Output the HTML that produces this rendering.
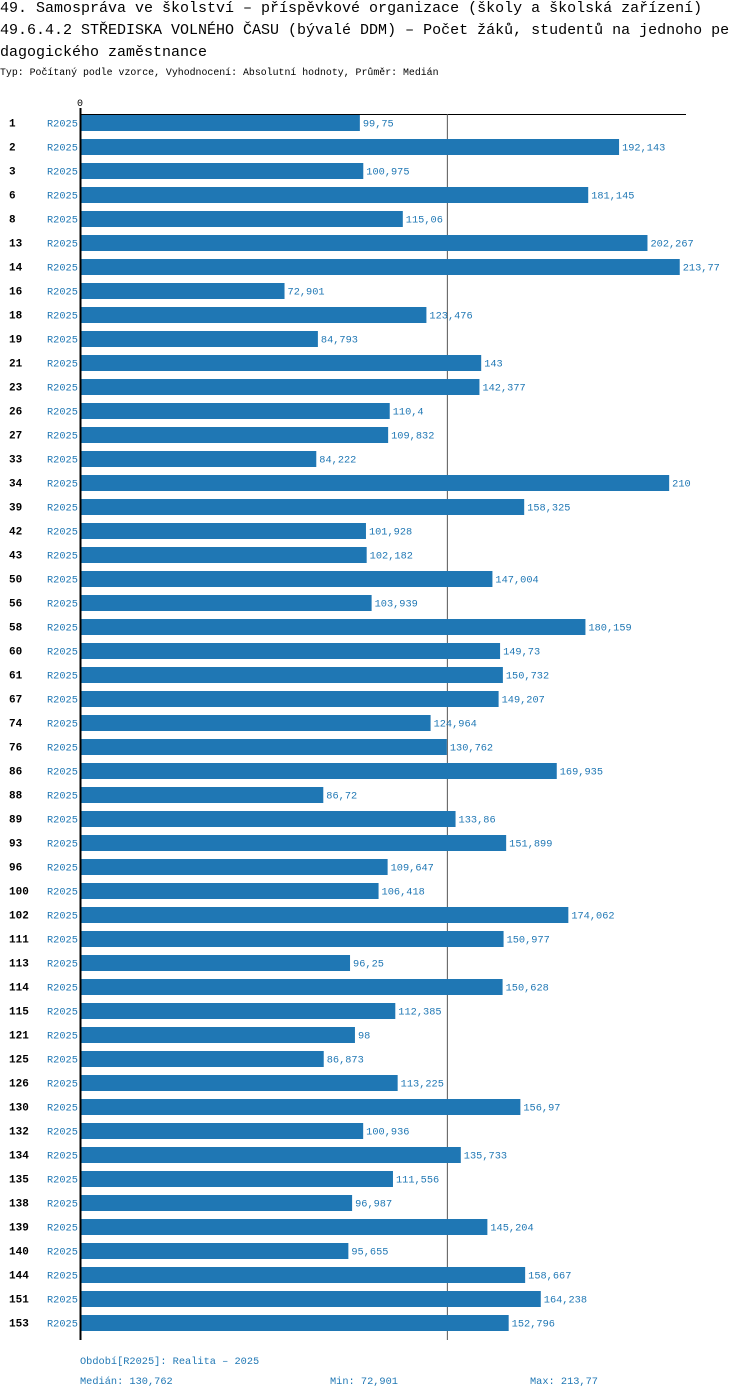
<!DOCTYPE html>
<html><head><meta charset="utf-8"><style>
body{margin:0;background:#fff;width:750px;height:1398px;overflow:hidden;font-family:"Liberation Mono","DejaVu Sans Mono",monospace}
.t{position:absolute;left:0;font-size:15px;color:#000;white-space:nowrap}
</style></head><body>
<div class="t" style="top:0px">49. Samospráva ve školství – příspěvkové organizace (školy a školská zařízení)</div>
<div class="t" style="top:22px">49.6.4.2 STŘEDISKA VOLNÉHO ČASU (bývalé DDM) – Počet žáků, studentů na jednoho pe</div>
<div class="t" style="top:44px">dagogického zaměstnance</div>
<div class="t" style="top:67px;font-size:9.9px">Typ: Počítaný podle vzorce, Vyhodnocení: Absolutní hodnoty, Průměr: Medián</div>
<svg id="c" width="750" height="1398" style="position:absolute;left:0;top:0"></svg>
<script>
const categories=["1","2","3","6","8","13","14","16","18","19","21","23","26","27","33","34","39","42","43","50","56","58","60","61","67","74","76","86","88","89","93","96","100","102","111","113","114","115","121","125","126","130","132","134","135","138","139","140","144","151","153"];
const values=[99.75,192.143,100.975,181.145,115.06,202.267,213.77,72.901,123.476,84.793,143,142.377,110.4,109.832,84.222,210,158.325,101.928,102.182,147.004,103.939,180.159,149.73,150.732,149.207,124.964,130.762,169.935,86.72,133.86,151.899,109.647,106.418,174.062,150.977,96.25,150.628,112.385,98,86.873,113.225,156.97,100.936,135.733,111.556,96.987,145.204,95.655,158.667,164.238,152.796];
const seriesLabel="R2025";
const median=130.762;
const NS="http://www.w3.org/2000/svg";
const svg=document.getElementById('c');
const x0=80,scale=606/216;
const xs=v=>x0+v*scale;
const ys=i=>114+i*24;
function mk(t,a,txt){const e=document.createElementNS(NS,t);for(const k in a)e.setAttribute(k,a[k]);if(txt!=null)e.textContent=txt;svg.appendChild(e);return e;}
const bottom=ys(categories.length)+2;
let e;
e=mk('line',{x1:x0,y1:114.5,x2:686,y2:114.5,stroke:'#000','stroke-width':1});


e=mk('text',{x:x0,y:106,'font-size':10,'text-anchor':'middle','font-family':'Liberation Mono,monospace'},'0');


e=mk('line',{x1:xs(median)+0.5,y1:114,x2:xs(median)+0.5,y2:bottom,stroke:'#555','stroke-width':1});


categories.forEach((c,i)=>{
  const y=ys(i);
  let r=mk('rect',{x:x0,y:y+1,width:values[i]*scale,height:16,fill:'#1f77b4'});
  
  
  let t=mk('text',{x:9,y:y+12.5,'font-size':11,'font-weight':'bold',fill:'#000','font-family':'Liberation Mono,monospace'},c);
  
  
  let s=mk('text',{x:47,y:y+12.5,'font-size':10.3,fill:'#1f77b4','font-family':'Liberation Mono,monospace'},seriesLabel);
  
  
  let v=mk('text',{x:xs(values[i])+3,y:y+12.5,'font-size':10.3,fill:'#1f77b4','font-family':'Liberation Mono,monospace'},String(values[i]).replace('.',','));
  
  
});
e=mk('line',{x1:x0+0.5,y1:108,x2:x0+0.5,y2:bottom,stroke:'#000','stroke-width':2});


const foot=[[80,1364,'Období[R2025]: Realita – 2025','footer-period'],[80,1384,'Medián: 130,762','footer-median'],[330,1384,'Min: 72,901','footer-min'],[530,1384,'Max: 213,77','footer-max']];
foot.forEach(f=>{e=mk('text',{x:f[0],y:f[1],'font-size':10.3,fill:'#1f77b4','font-family':'Liberation Mono,monospace'},f[2]);

});
</script>
</body></html>
